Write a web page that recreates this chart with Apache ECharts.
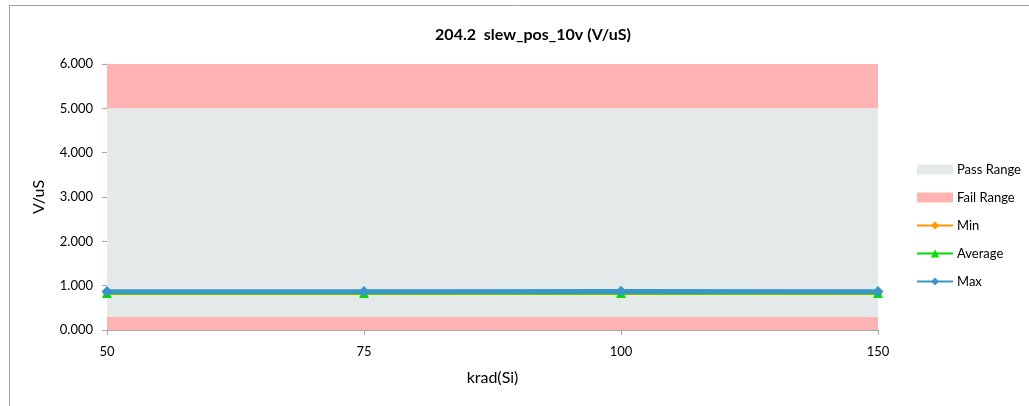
<!DOCTYPE html>
<html>
<head>
<meta charset="utf-8">
<script src="https://cdn.jsdelivr.net/npm/echarts@6/dist/echarts.min.js"></script>
<style>
html,body{margin:0;padding:0;background:#fff;}
#c{width:1029px;height:406px;}
</style>
</head>
<body>
<div id="c"></div>
<script>
// Data
const categories = ['50', '75', '100', '150'];
const failLow   = [0.3, 0.3, 0.3, 0.3];     // fail band 0 .. 0.3
const passBand  = [4.7, 4.7, 4.7, 4.7];     // pass band 0.3 .. 5.0 (stacked thickness)
const failHigh  = [1.0, 1.0, 1.0, 1.0];     // fail band 5.0 .. 6.0 (stacked thickness)
const minVals   = [0.825, 0.825, 0.825, 0.825];
const avgVals   = [0.835, 0.835, 0.835, 0.835];
const maxVals   = [0.870, 0.868, 0.872, 0.866];
const yTicks    = [0, 1, 2, 3, 4, 5, 6];

const FONT = 'Lato, "Liberation Sans", sans-serif';
const PASS = '#E4EAEA';
const FAIL = '#FFB3B3';

const chart = echarts.init(document.getElementById('c'), null, {renderer: 'canvas'});

function band(name, data, color) {
  return {
    name: name, type: 'line', stack: 'band', data: data,
    symbol: 'none', showSymbol: false,
    lineStyle: {width: 0, opacity: 0},
    areaStyle: {color: color, opacity: 1},
    itemStyle: {color: color},
    z: 1, silent: true
  };
}

chart.setOption({
  animation: false,
  backgroundColor: '#fff',
  graphic: [{
    type: 'rect', shape: {x: 9.5, y: 5.5, width: 1100, height: 500},
    style: {fill: 'none', stroke: '#A0A0A0', lineWidth: 1}, z: -10
  }],
  title: {
    text: '204.2  slew_pos_10v (V/uS)',
    left: 528, top: 22, textAlign: 'center',
    textStyle: {fontFamily: FONT, fontSize: 16, fontWeight: 'bold', color: '#000'}
  },
  legend: {
    orient: 'vertical', left: 916, top: 163, padding: 0,
    itemWidth: 36, itemHeight: 10, itemGap: 15,
    data: [
      {name: 'Pass Range', icon: 'rect'},
      {name: 'Fail Range', icon: 'rect'},
      {name: 'Min'}, {name: 'Average'}, {name: 'Max'}
    ],
    textStyle: {fontFamily: FONT, fontSize: 13, color: '#000', padding: [0, 0, 0, -1]}
  },
  grid: {left: 107, right: 151, top: 64, bottom: 76},
  xAxis: {
    type: 'category', data: categories, boundaryGap: false,
    name: 'krad(Si)', nameLocation: 'middle', nameGap: 40,
    nameTextStyle: {fontFamily: FONT, fontSize: 16, color: '#000'},
    axisLine: {lineStyle: {color: '#A6A6A6'}},
    axisTick: {show: true, inside: false, length: 5, lineStyle: {color: '#A6A6A6'}},
    axisLabel: {fontFamily: FONT, fontSize: 13, color: '#000', margin: 15},
    splitLine: {show: false}
  },
  yAxis: {
    type: 'value', min: 0, max: 6, interval: 1,
    name: 'V/uS', nameLocation: 'middle', nameGap: 60,
    nameTextStyle: {fontFamily: FONT, fontSize: 16, color: '#000'},
    axisLine: {show: true, lineStyle: {color: '#A6A6A6'}},
    axisTick: {show: true, inside: false, length: 5, lineStyle: {color: '#A6A6A6'}},
    axisLabel: {fontFamily: FONT, fontSize: 13, color: '#000', margin: 14,
      formatter: v => yTicks.indexOf(v) >= 0 ? v.toFixed(3) : ''},
    splitLine: {show: false}
  },
  series: [
    band('Fail Range', failLow, FAIL),
    band('Pass Range', passBand, PASS),
    band('Fail Range', failHigh, FAIL),
    {
      name: 'Min', type: 'line', data: minVals, z: 5,
      symbol: 'diamond', symbolSize: 9,
      lineStyle: {color: '#FF9900', width: 3},
      itemStyle: {color: '#FF9900'}
    },
    {
      name: 'Average', type: 'line', data: avgVals, z: 6,
      symbol: 'triangle', symbolSize: 10,
      lineStyle: {color: '#00DD00', width: 3},
      itemStyle: {color: '#00DD00'}
    },
    {
      name: 'Max', type: 'line', data: maxVals, z: 7,
      symbol: 'diamond', symbolSize: 11,
      lineStyle: {color: '#3A96C8', width: 4.5},
      itemStyle: {color: '#3A96C8'}
    }
  ]
});
</script>
</body>
</html>
